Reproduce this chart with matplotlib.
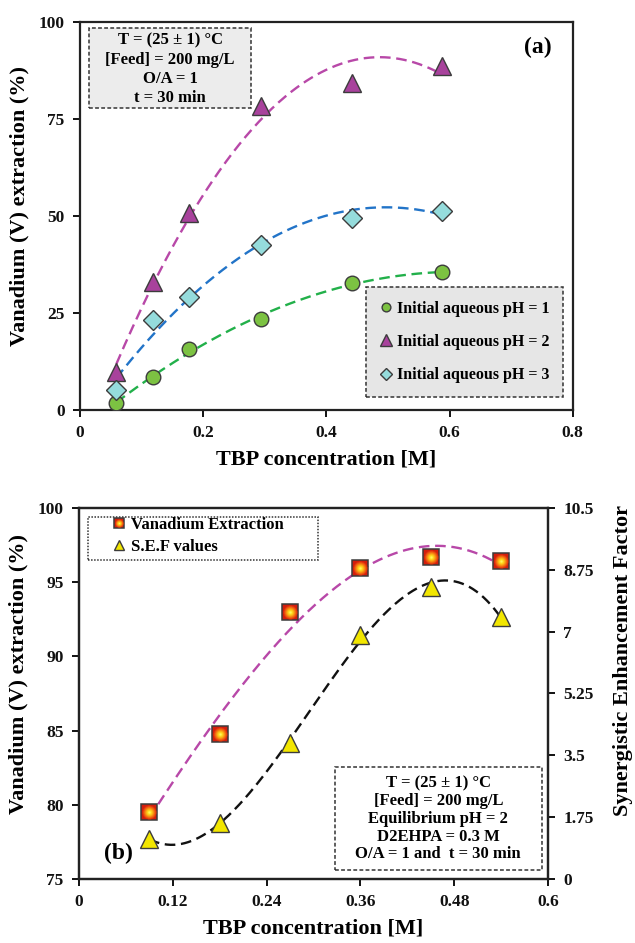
import numpy as np
import matplotlib
matplotlib.use("Agg")
import matplotlib.pyplot as plt
from matplotlib.patches import Rectangle
from matplotlib.legend_handler import HandlerTuple

plt.rcParams['font.family'] = ['Liberation Serif', 'DejaVu Serif']
plt.rcParams['font.weight'] = 'bold'
plt.rcParams['axes.labelweight'] = 'bold'

# ---- Panel (a): effect of TBP concentration at different initial pH ----
tbp_a = [0.059, 0.118, 0.177, 0.294, 0.441, 0.588]
ext_ph1 = [1.8, 8.5, 15.7, 23.5, 32.7, 35.5]
ext_ph2 = [9.8, 33.0, 50.8, 78.3, 84.3, 88.7]
ext_ph3 = [5.2, 23.2, 29.1, 42.6, 49.6, 51.3]
labels_a = ["Initial aqueous pH = 1", "Initial aqueous pH = 2", "Initial aqueous pH = 3"]
xticks_a = [0, 0.2, 0.4, 0.6, 0.8]
xticklabels_a = ["0", "0.2", "0.4", "0.6", "0.8"]
yticks_a = [0, 25, 50, 75, 100]

# ---- Panel (b): vanadium extraction and synergistic enhancement factor ----
tbp_b = [0.09, 0.18, 0.27, 0.36, 0.45, 0.54]
ext_b = [79.5, 84.8, 93.0, 95.96, 96.7, 96.4]
sef_b = [1.13, 1.59, 3.85, 6.9, 8.27, 7.42]
labels_b = ["Vanadium Extraction", "S.E.F values"]
xticks_b = [0, 0.12, 0.24, 0.36, 0.48, 0.6]
xticklabels_b = ["0", "0.12", "0.24", "0.36", "0.48", "0.6"]
yticks_b = [75, 80, 85, 90, 95, 100]
yticks_b2 = [0, 1.75, 3.5, 5.25, 7, 8.75, 10.5]
yticklabels_b2 = ["0", "1.75", "3.5", "5.25", "7", "8.75", "10.5"]

EDGE = '#3c3c3c'
DASH = (4.5, 2.4)


def trend(x, y, deg, n=200):
    c = np.polyfit(x, y, deg)
    xs = np.linspace(min(x), max(x), n)
    return xs, np.polyval(c, xs)


def style_axis(ax):
    for s in ax.spines.values():
        s.set_linewidth(1.6)
        s.set_color('#222222')
    ax.tick_params(direction='out', length=5, width=1.4, labelsize=12.5,
                   colors='#111111', pad=6)


fig = plt.figure(figsize=(6.35, 9.43), dpi=100)

# ================= (a) =================
ax = fig.add_axes([0.126, 0.5652, 0.776, 0.4115])
style_axis(ax)

series_a = [
    (ext_ph1, 'o', '#7cc242', '#22b04a', 10.5, 2),
    (ext_ph2, '^', '#a8429c', '#b848a8', 13.5, 2),
    (ext_ph3, 'D', '#95dcdc', '#2274c8', 10, 2),
]
handles_a = []
for (vals, mk, fc, lc, ms, deg), lab in zip(series_a, labels_a):
    xs, ys = trend(tbp_a, vals, deg)
    ax.plot(xs, ys, color=lc, lw=1.7, dashes=DASH, zorder=2)
    h, = ax.plot(tbp_a, vals, ls='none', marker=mk, ms=ms, mfc=fc, mec=EDGE,
                 mew=1.0, zorder=3, label=lab)
    handles_a.append(h)

ax.set_xlim(0, 0.8)
ax.set_ylim(0, 100)
ax.set_xticks(xticks_a)
ax.set_xticklabels(xticklabels_a)
ax.set_yticks(yticks_a)
ax.set_xlabel("TBP concentration [M]", fontsize=16, labelpad=6)
ax.set_ylabel("Vanadium (V) extraction (%)", fontsize=16)
ax.yaxis.set_label_coords(-0.103, 0.526)

# conditions box
ax.add_patch(Rectangle((0.018, 0.778), 0.329, 0.207, transform=ax.transAxes,
                       fc='#ececec', ec='#333333', lw=1.1, ls=(0, (2.5, 1.5)),
                       zorder=4))
ax.text(0.183, 0.878, "T = (25 \u00b1 1) \u00b0C\n[Feed] = 200 mg/L\nO/A = 1\nt = 30 min",
        transform=ax.transAxes, ha='center', va='center', fontsize=12,
        fontweight='bold', linespacing=1.26, zorder=5)
ax.text(0.93, 0.935, "(a)", transform=ax.transAxes, ha='center', va='center',
        fontsize=17, fontweight='bold')

leg = ax.legend(handles=handles_a, loc='lower right', bbox_to_anchor=(0.98, 0.034),
                borderaxespad=0, fontsize=11.5, markerscale=0.6, handlelength=0.8,
                handletextpad=0.3, labelspacing=1.08, borderpad=0.85,
                fancybox=False, framealpha=1)
leg.get_frame().set_facecolor('#e6e6e6')
leg.get_frame().set_edgecolor('#333333')
leg.get_frame().set_linestyle((0, (2.5, 1.5)))
leg.get_frame().set_linewidth(1.1)

# ================= (b) =================
axb = fig.add_axes([0.1244, 0.0679, 0.7386, 0.3934])
style_axis(axb)
axb2 = axb.twinx()
style_axis(axb2)

xs, ys = trend(tbp_b, ext_b, 3)
axb.plot(xs, ys, color='#b848a8', lw=1.7, dashes=DASH, zorder=2)
xs2, ys2 = trend(tbp_b, sef_b, 3)
axb2.plot(xs2, ys2, color='#111111', lw=1.7, dashes=DASH, zorder=2)

# squares with a red-to-yellow radial shading
sq_layers = [('s', 11.5, '#d41e0c'), ('o', 10.0, '#e43a0e'), ('o', 8.6, '#ef5c10'),
             ('o', 7.2, '#f58012'), ('o', 5.8, '#f9a415'), ('o', 4.4, '#fcc61a'),
             ('o', 3.0, '#fee224'), ('o', 1.6, '#fff560')]
sq_handles = []
for i, (mk, s, c) in enumerate(sq_layers):
    h, = axb2.plot(tbp_b, ext_b, ls='none', marker=mk, ms=s, mfc=c,
                   mec=EDGE if i == 0 else c, mew=1.1 if i == 0 else 0,
                   zorder=3 + i * 0.01, transform=axb.transData)
    sq_handles.append(h)

tri, = axb2.plot(tbp_b, sef_b, ls='none', marker='^', ms=13, mfc='#f2e600',
                 mec=EDGE, mew=1.0, zorder=4)

axb.set_xlim(0, 0.6)
axb.set_ylim(75, 100)
axb2.set_ylim(0, 10.5)
axb.set_xticks(xticks_b)
axb.set_xticklabels(xticklabels_b)
axb.set_yticks(yticks_b)
axb2.set_yticks(yticks_b2)
axb2.set_yticklabels(yticklabels_b2)
axb.set_xlabel("TBP concentration [M]", fontsize=16, labelpad=6)
axb.set_ylabel("Vanadium (V) extraction (%)", fontsize=16)
axb.yaxis.set_label_coords(-0.107, 0.553)
axb2.set_ylabel("Synergistic Enhancement Factor", fontsize=16)
axb2.yaxis.set_label_coords(1.138, 0.59)

# legend box
axb2.add_patch(Rectangle((0.019, 0.86), 0.491, 0.116, transform=axb.transAxes,
                         fc='white', ec='#333333', lw=1.1, ls=(0, (1, 1)), zorder=5))
legb = axb2.legend(handles=[tuple(sq_handles), tri], labels=labels_b,
                   handler_map={tuple: HandlerTuple(ndivide=1, pad=0)},
                   loc='upper left', bbox_to_anchor=(0.072, 0.975),
                   bbox_transform=axb.transAxes, borderaxespad=0, borderpad=0,
                   frameon=False, fontsize=12, markerscale=0.6, handlelength=0.8,
                   handletextpad=0.3, labelspacing=0.35)
legb.set_zorder(6)

# conditions box
axb2.add_patch(Rectangle((0.546, 0.024), 0.441, 0.277, transform=axb.transAxes,
                         fc='white', ec='#333333', lw=1.1, ls=(0, (2.5, 1.5)),
                         zorder=5))
axb2.text(0.766, 0.162,
          "T = (25 \u00b1 1) \u00b0C\n[Feed] = 200 mg/L\nEquilibrium pH = 2\nD2EHPA = 0.3 M\nO/A = 1 and  t = 30 min",
          transform=axb.transAxes, ha='center', va='center', fontsize=12,
          fontweight='bold', linespacing=1.15, zorder=6)
axb2.text(0.085, 0.07, "(b)", transform=axb.transAxes, ha='center', va='center',
          fontsize=17, fontweight='bold', zorder=6)

fig.savefig("out.png", dpi=100)
